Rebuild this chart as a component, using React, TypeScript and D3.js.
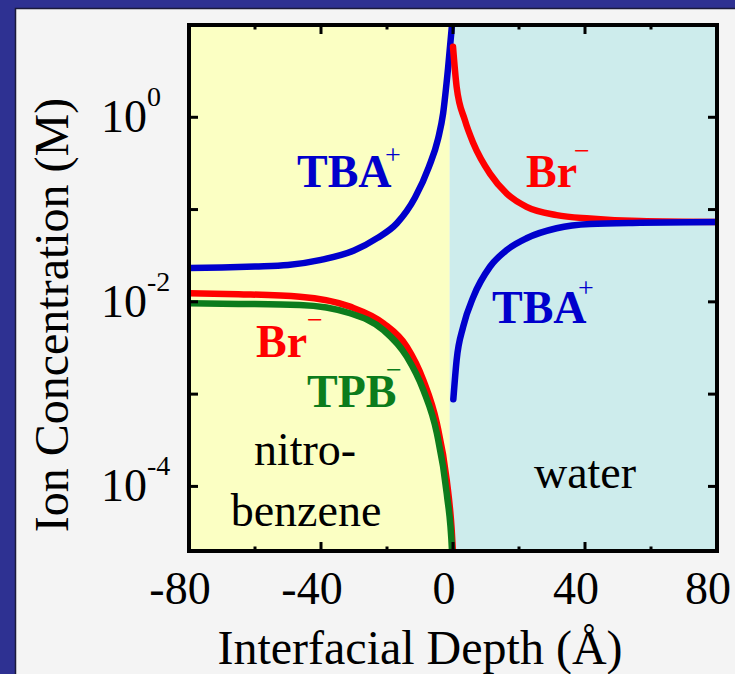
import React from "react";
import * as d3 from "d3";

// ---- data ----
const xTickMajor = [-80, -40, 0, 40, 80];
const xTickMinor = [-60, -20, 20, 60];
const yTickMajor = [0, -2, -4];
const yTickMinor = [-1, -3];

const tbaOrgX = [-80, -70, -60, -50, -40, -30, -23, -17, -11.5, -7.3, -4.5, -3, -1.5, -0.2];
const tbaOrgY = [0.0233, 0.0236, 0.0242, 0.0251, 0.0285, 0.036, 0.049, 0.071, 0.135, 0.29, 0.59, 1.1, 3.4, 11];

const brOrgX = [-80, -65, -46.4, -31.2, -21.1, -14, -9, -4.9, -1.9, -0.4, 0.3];
const brOrgY = [0.0124, 0.0121, 0.01137, 0.00887, 0.00586, 0.00327, 0.00142, 0.000483, 0.000117, 3.4e-5, 1.2e-5];

const tpbOrgX = [-80, -65, -46.4, -31.2, -21.1, -14, -9, -4.9, -1.9, -0.3, 0];
const tpbOrgY = [0.00964, 0.0095, 0.00925, 0.00752, 0.00495, 0.00255, 0.00111, 0.000377, 8.4e-5, 2e-5, 1e-5];

const brWatX = [0, 1.1, 3.6, 6.2, 11.2, 16.3, 22.3, 31.4, 41.5, 56.7, 80];
const brWatY = [5.8, 2.14, 0.93, 0.52, 0.245, 0.149, 0.107, 0.087, 0.08, 0.075, 0.0733];

const tbaWatX = [0.1, 1.1, 3.1, 6.2, 11.2, 16.3, 22.3, 31.4, 41.5, 56.7, 80];
const tbaWatY = [0.00088, 0.00234, 0.0054, 0.0114, 0.024, 0.0365, 0.0489, 0.0627, 0.0698, 0.072, 0.0733];

const interfaceX = -1;

const W = 735;
const H = 674;
const L = 189, R = 717, T = 25, B = 551;

const BLUE = "#0000cc";
const RED = "#ff0000";
const GREEN = "#0c7c1c";
const FONT = "'Liberation Serif', 'Times New Roman', serif";

export default function App() {
  const x = d3.scaleLinear().domain([-80, 80]).range([L, R]);
  const y = d3.scaleLog().domain([Math.pow(10, -4.7), 10]).range([B, T]);

  const line = d3
    .line<[number, number]>()
    .x((d) => x(d[0]))
    .y((d) => y(d[1]))
    .curve(d3.curveMonotoneX);

  const mk = (xs: number[], ys: number[]) =>
    line(xs.map((v, i) => [v, ys[i]] as [number, number])) || "";

  const series = [
    { d: mk(tbaOrgX, tbaOrgY), c: BLUE },
    { d: mk(brOrgX, brOrgY), c: RED },
    { d: mk(tpbOrgX, tpbOrgY), c: GREEN },
    { d: mk(brWatX, brWatY), c: RED },
    { d: mk(tbaWatX, tbaWatY), c: BLUE },
  ];

  const bold = { fontFamily: FONT, fontWeight: 700, fontSize: 46 } as const;
  const sup = { fontFamily: FONT, fontSize: 28 } as const;

  return (
    <svg
      width={W}
      height={H}
      style={{ position: "absolute", left: 0, top: 0 }}
      xmlns="http://www.w3.org/2000/svg"
    >
      <defs>
        <clipPath id="plotClip">
          <rect x={L} y={T} width={R - L} height={B - T} />
        </clipPath>
      </defs>
      {/* frame */}
      <rect x={0} y={0} width={W} height={H} fill="#2e3192" />
      <rect x={15.5} y={8.5} width={W} height={H} fill="#f4f4f4" stroke="#1a1a3a" strokeWidth={1.5} />

      {/* region shading */}
      <rect x={L} y={T} width={x(interfaceX) - L} height={B - T} fill="#fbffc3" />
      <rect x={x(interfaceX)} y={T} width={R - x(interfaceX)} height={B - T} fill="#cdecec" />

      {/* curves */}
      <g clipPath="url(#plotClip)">
        {series.map((s, i) => (
          <path
            key={i}
            d={s.d}
            fill="none"
            stroke={s.c}
            strokeWidth={6.5}
            strokeLinecap="round"
            strokeLinejoin="round"
          />
        ))}
      </g>

      {/* ticks */}
      <g stroke="#000" strokeWidth={3}>
        {xTickMajor.map((t) => (
          <g key={"xM" + t}>
            <line x1={x(t)} x2={x(t)} y1={B} y2={B - 9} />
            <line x1={x(t)} x2={x(t)} y1={T} y2={T + 9} />
          </g>
        ))}
        {xTickMinor.map((t) => (
          <g key={"xm" + t}>
            <line x1={x(t)} x2={x(t)} y1={B} y2={B - 4.5} />
            <line x1={x(t)} x2={x(t)} y1={T} y2={T + 4.5} />
          </g>
        ))}
        {[...yTickMajor, ...yTickMinor].map((e) => (
          <g key={"y" + e}>
            <line x1={L} x2={L + 9} y1={y(Math.pow(10, e))} y2={y(Math.pow(10, e))} />
            <line x1={R} x2={R - 9} y1={y(Math.pow(10, e))} y2={y(Math.pow(10, e))} />
          </g>
        ))}
      </g>

      {/* axes box */}
      <rect x={L} y={T} width={R - L} height={B - T} fill="none" stroke="#000" strokeWidth={4} />

      {/* x tick labels */}
      {xTickMajor.map((t) => (
        <text
          key={"xl" + t}
          x={x(t) - 9}
          y={604}
          textAnchor="middle"
          fontFamily={FONT}
          fontSize={46}
          fill="#000"
        >
          {t}
        </text>
      ))}

      {/* y tick labels */}
      {yTickMajor.map((e) => (
        <g key={"yl" + e}>
          <text
            x={147}
            y={y(Math.pow(10, e)) + 15}
            textAnchor="end"
            fontFamily={FONT}
            fontSize={46}
            fill="#000"
          >
            10
          </text>
          <text x={147} y={y(Math.pow(10, e)) - 11} fontFamily={FONT} fontSize={28} fill="#000">
            {e}
          </text>
        </g>
      ))}

      {/* axis titles */}
      <text x={420} y={664} textAnchor="middle" fontFamily={FONT} fontSize={48} fill="#000">
        Interfacial Depth (Å)
      </text>
      <text
        transform="translate(68,315) rotate(-90)"
        textAnchor="middle"
        fontFamily={FONT}
        fontSize={48}
        fill="#000"
      >
        Ion Concentration (M)
      </text>

      {/* species labels */}
      <text x={297} y={187} fill={BLUE} style={bold}>TBA</text>
      <text x={385} y={164} fill={BLUE} style={sup}>+</text>

      <text x={526} y={187} fill={RED} style={bold}>Br</text>
      <text x={574} y={160} fill={RED} style={sup}>−</text>

      <text x={492} y={323} fill={BLUE} style={bold}>TBA</text>
      <text x={578} y={297} fill={BLUE} style={sup}>+</text>

      <text x={256} y={357} fill={RED} style={bold}>Br</text>
      <text x={307} y={329} fill={RED} style={sup}>−</text>

      <text x={307} y={407} fill={GREEN} style={bold}>TPB</text>
      <text x={386} y={379} fill={GREEN} style={sup}>−</text>

      {/* phase labels */}
      <text x={305} y={465} textAnchor="middle" fontFamily={FONT} fontSize={46} fill="#000">
        nitro-
      </text>
      <text x={306} y={526} textAnchor="middle" fontFamily={FONT} fontSize={46} fill="#000">
        benzene
      </text>
      <text x={585} y={488} textAnchor="middle" fontFamily={FONT} fontSize={46} fill="#000">
        water
      </text>
    </svg>
  );
}
